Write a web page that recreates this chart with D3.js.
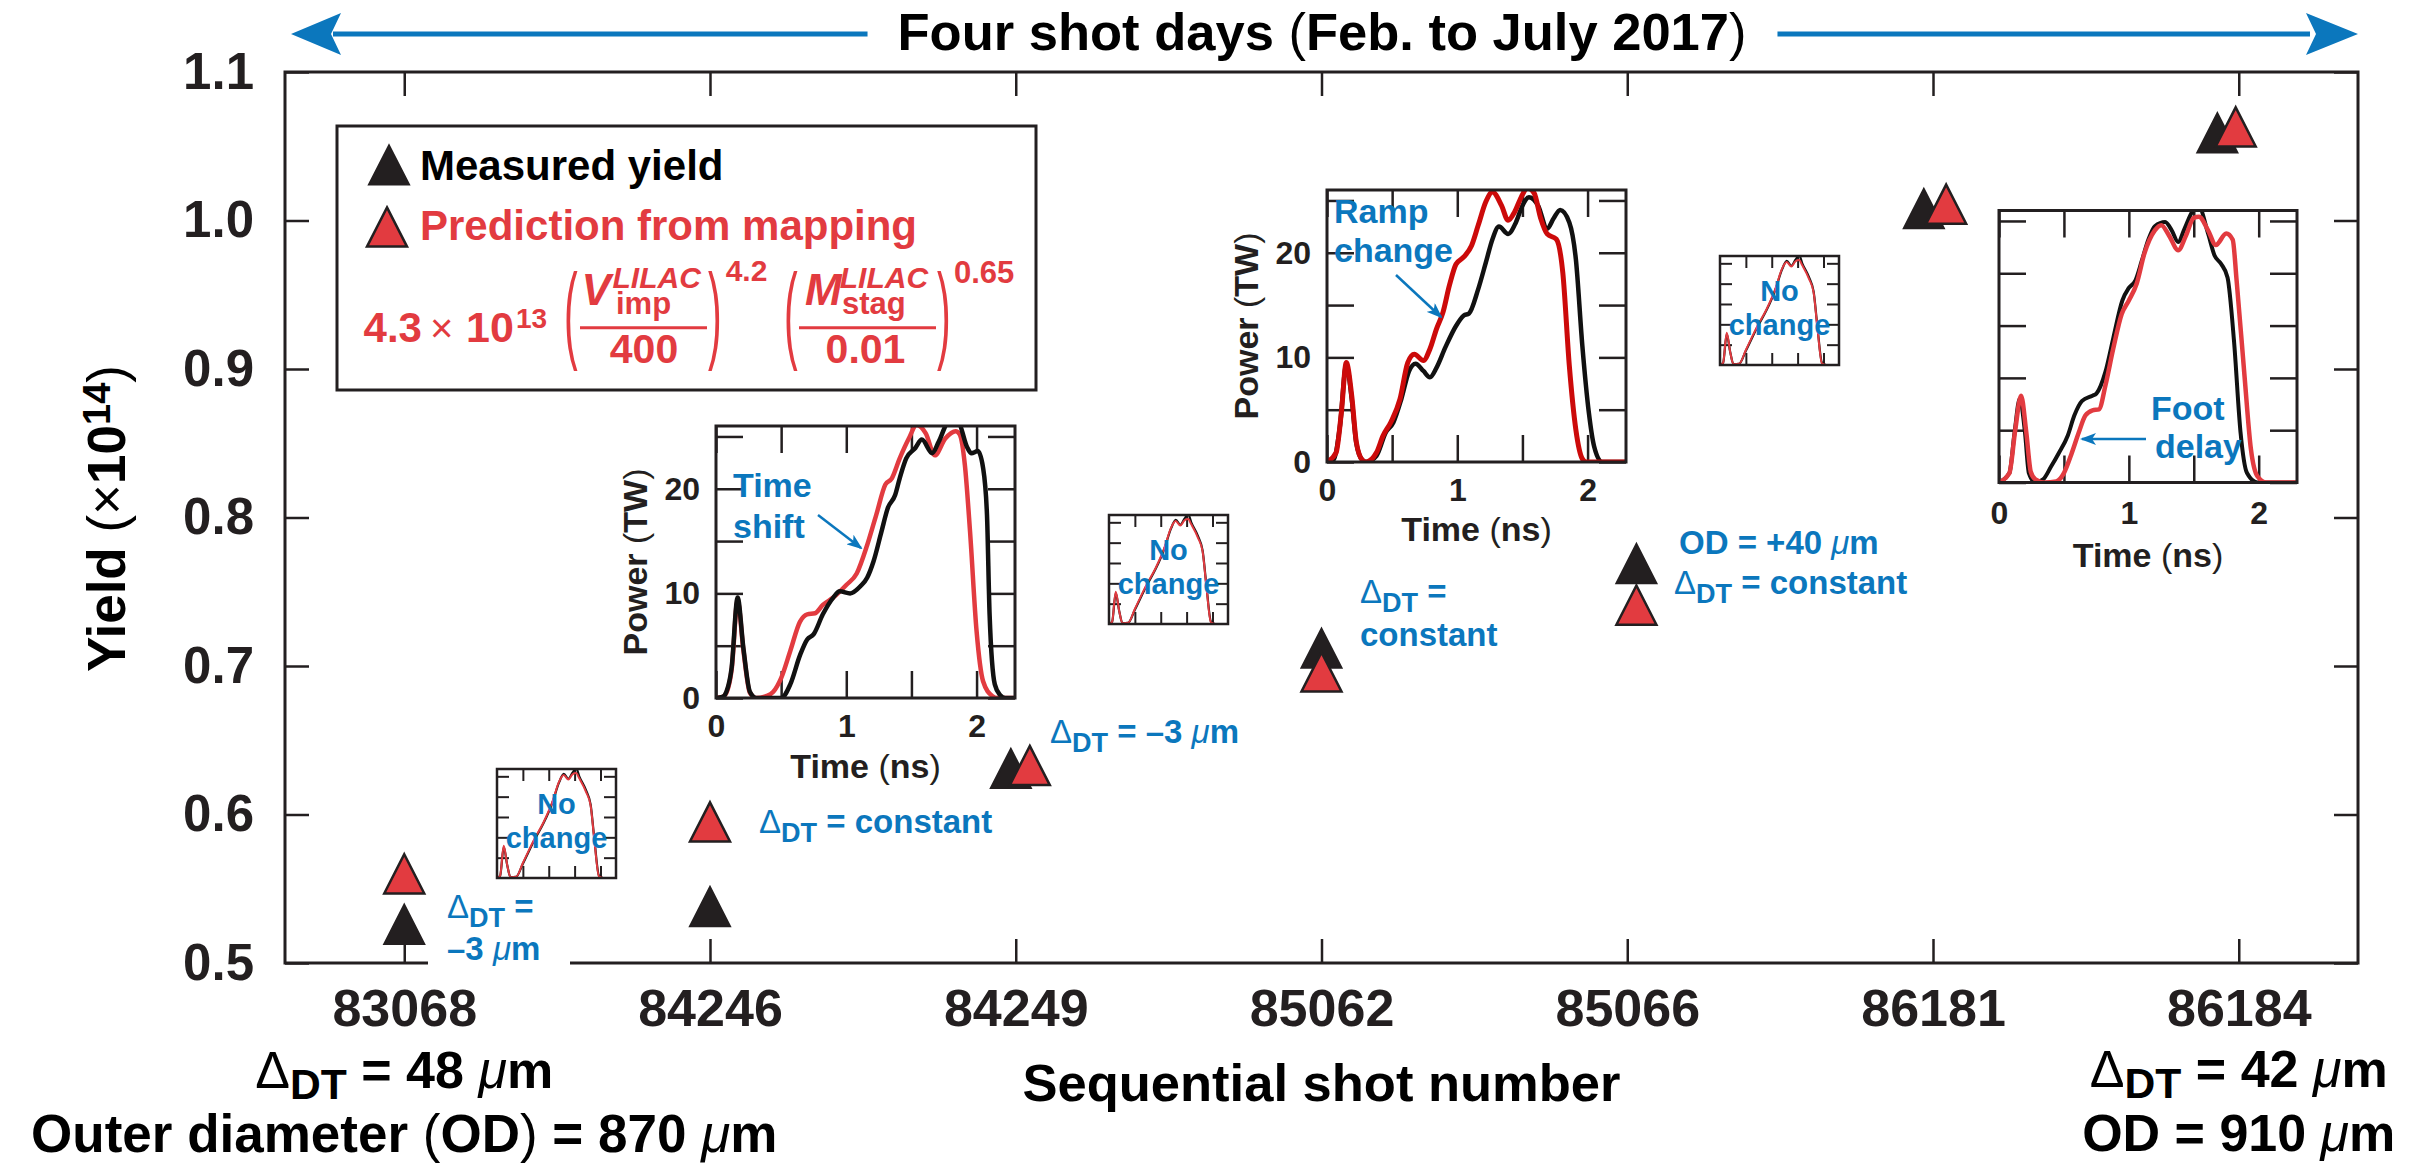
<!DOCTYPE html>
<html>
<head>
<meta charset="utf-8">
<script src="https://cdn.jsdelivr.net/npm/d3@7/dist/d3.min.js"></script>
<style>
  html, body { margin: 0; padding: 0; background: #ffffff; }
  svg text { font-family: "Liberation Sans", Arial, Helvetica, sans-serif; }
</style>
</head>
<body>
<svg id="chart" width="2416" height="1163" viewBox="0 0 2416 1163"></svg>
<script>
// ---------------- data ----------------
const shots = ["83068", "84246", "84249", "85062", "85066", "86181", "86184"];
const measuredYield  = [0.526, 0.538, 0.631, 0.712, 0.769, 1.008, 1.059];
const predictedYield = [0.560, 0.595, 0.633, 0.696, 0.741, 1.011, 1.063];
// small horizontal offsets (in shot-index units) so overlapping pairs stay visible
const measuredNudge  = [0, 0, -0.016, 0, 0.03, -0.03, -0.07];
const predictedNudge = [0, 0, 0.046, 0, 0.03, 0.043, -0.01];
const yieldTicks = [0.5, 0.6, 0.7, 0.8, 0.9, 1.0, 1.1];

// laser pulse shapes: [time (ns), power (TW)]
const pulseShiftOld = [[0,0],[0.05,0.1],[0.08,0.6],[0.12,2.9],[0.166,9.6],[0.21,4.8],[0.26,0.6],[0.31,0],[0.5,0],[0.57,1.3],[0.645,4.1],[0.70,5.6],[0.75,6.1],[0.82,8.0],[0.90,9.6],[0.95,10.2],[1.03,10.0],[1.11,10.7],[1.16,11.5],[1.21,13.1],[1.27,15.9],[1.32,18.2],[1.375,19.4],[1.41,21.0],[1.46,22.9],[1.53,23.9],[1.58,24.7],[1.66,23.4],[1.71,24.5],[1.78,26.2],[1.86,26.2],[1.93,23.9],[1.96,23.4],[2.01,23.6],[2.05,22.0],[2.08,17.5],[2.10,8],[2.14,1.3],[2.18,0.3],[2.22,0],[2.3,0]];
const pulseShiftNew = [[0,0],[0.05,0.1],[0.08,0.5],[0.12,2.7],[0.166,9.3],[0.21,4.6],[0.26,0.5],[0.31,0],[0.39,0.2],[0.44,0.6],[0.50,1.9],[0.57,4.5],[0.645,7.3],[0.70,8.0],[0.76,8.1],[0.82,8.9],[0.90,9.6],[1.0,10.8],[1.08,11.9],[1.16,14.6],[1.23,17.5],[1.30,20.4],[1.35,21.0],[1.41,22.9],[1.48,24.8],[1.54,26.1],[1.61,25.3],[1.68,23.2],[1.76,24.8],[1.84,25.5],[1.87,25.2],[1.91,22.3],[1.95,15.9],[2.00,6.4],[2.05,1.6],[2.12,0.2],[2.16,0],[2.3,0]];
const pulseRampOld = [[0,0],[0.05,0.2],[0.1,3.5],[0.148,9.3],[0.19,6.0],[0.225,1.8],[0.27,0.2],[0.30,0],[0.38,0.6],[0.45,2.8],[0.51,3.8],[0.57,6.0],[0.63,8.7],[0.68,9.4],[0.74,8.7],[0.79,8.1],[0.84,9.0],[0.91,11.0],[0.99,13.0],[1.05,14.0],[1.09,14.2],[1.16,16.5],[1.22,19.1],[1.27,21.3],[1.32,22.5],[1.39,21.8],[1.45,22.9],[1.50,24.5],[1.55,25.3],[1.62,24.5],[1.69,22.3],[1.74,23.3],[1.79,24.1],[1.86,22.9],[1.91,19.4],[1.96,11.1],[2.01,4.7],[2.05,1.5],[2.11,0],[2.3,0]];
const pulseRampNew = [[0,0],[0.07,0.9],[0.11,4.7],[0.148,9.5],[0.19,6.3],[0.225,1.9],[0.27,0.2],[0.30,0],[0.38,0.9],[0.43,2.5],[0.49,3.8],[0.56,6.0],[0.62,9.5],[0.67,10.3],[0.74,9.7],[0.79,10.8],[0.84,12.7],[0.89,14.3],[0.94,16.9],[0.99,18.9],[1.05,19.6],[1.11,20.7],[1.16,22.6],[1.22,24.9],[1.27,25.8],[1.34,24.5],[1.39,23.1],[1.44,23.9],[1.49,25.3],[1.54,26.2],[1.59,25.7],[1.64,23.3],[1.69,21.8],[1.76,21.3],[1.81,18.1],[1.86,9.2],[1.91,3.1],[1.96,0.3],[1.99,0],[2.3,0]];
const pulseFootOld = [[0,0],[0.08,0.9],[0.12,4.8],[0.16,8.0],[0.20,4.8],[0.23,0.9],[0.28,0],[0.34,0.3],[0.40,1.5],[0.46,2.8],[0.53,4.5],[0.58,6.4],[0.64,7.8],[0.72,8.3],[0.75,8.5],[0.82,10.6],[0.88,13.8],[0.95,17.4],[1.0,18.6],[1.05,19.3],[1.10,21.2],[1.15,23.2],[1.20,24.5],[1.28,24.9],[1.33,24.1],[1.38,23.0],[1.43,24.3],[1.49,25.9],[1.54,26.3],[1.61,23.8],[1.66,21.7],[1.71,20.9],[1.76,19.6],[1.81,13.5],[1.86,4.8],[1.91,0.9],[1.99,0],[2.3,0]];
const pulseFootNew = [[0,0],[0.08,0.9],[0.125,5.0],[0.17,8.3],[0.21,4.8],[0.245,1.0],[0.28,0.3],[0.35,0],[0.44,0.1],[0.50,0.9],[0.56,2.8],[0.615,4.8],[0.665,6.4],[0.72,6.9],[0.77,7.0],[0.82,9.3],[0.88,12.8],[0.945,16.1],[1.0,17.4],[1.06,19.0],[1.12,21.9],[1.20,24.1],[1.25,24.6],[1.31,23.6],[1.38,22.2],[1.44,23.6],[1.50,25.3],[1.54,25.4],[1.61,24.1],[1.67,22.7],[1.75,23.8],[1.80,23.2],[1.83,19.3],[1.89,10.3],[1.94,3.2],[1.99,0.6],[2.06,0],[2.3,0]];
const pulseSameOld = [[0,0],[0.06,0.5],[0.13,7.6],[0.2,3],[0.26,0.2],[0.37,0.3],[0.5,3.5],[0.72,9.3],[0.9,13.5],[1.07,18.5],[1.2,23.5],[1.29,25.6],[1.38,24.4],[1.46,25.9],[1.53,27],[1.59,25],[1.72,21.6],[1.81,18],[1.88,9.8],[1.97,0.6],[2.05,0],[2.3,0]];
const pulseSameNew = [[0,0],[0.06,0.5],[0.13,7.9],[0.2,3],[0.26,0.2],[0.37,0.3],[0.5,3.7],[0.72,9.5],[0.9,13.7],[1.07,18.7],[1.2,23.7],[1.29,25.3],[1.38,24.2],[1.46,25.5],[1.53,25.8],[1.59,24.5],[1.72,21.2],[1.81,17.8],[1.88,9.5],[1.97,0.4],[2.05,0],[2.3,0]];

// ---------------- styles ----------------
const INK = "#231f20", BLUE = "#0b77bd", RED = "#e23b40", DEEPRED = "#cc0a0a";
const FONT = "'Liberation Sans', Arial, Helvetica, sans-serif";

const svg = d3.select("#chart");
const defs = svg.append("defs");
defs.append("marker").attr("id", "blueHead")
  .attr("viewBox", "0 0 16 12").attr("refX", 14).attr("refY", 6)
  .attr("markerWidth", 16).attr("markerHeight", 12)
  .attr("markerUnits", "userSpaceOnUse").attr("orient", "auto")
  .append("path").attr("d", "M0,0 L16,6 L0,12 L4,6 Z").attr("fill", BLUE);

// ---------------- main scales ----------------
const x = d3.scaleLinear().domain([-0.39, 6.39]).range([285, 2358]);
const y = d3.scaleLinear().domain([0.5, 1.1]).range([963, 72]);
const L = x.range()[0], R = x.range()[1], T = y.range()[1], B = y.range()[0];

function styleAxis(g, size) {
  g.attr("font-family", FONT).attr("font-size", size);
  g.select(".domain").remove();
  g.selectAll(".tick line").attr("stroke", INK).attr("stroke-width", 2.5);
  g.selectAll(".tick text").attr("fill", INK).attr("font-weight", "bold");
}

// axes with inward ticks on all four sides
styleAxis(svg.append("g").attr("transform", `translate(0,${B})`)
  .call(d3.axisBottom(x).tickValues(d3.range(shots.length)).tickFormat(i => shots[i])
    .tickSizeInner(-24).tickSizeOuter(0).tickPadding(26)), 52);
styleAxis(svg.append("g").attr("transform", `translate(0,${T})`)
  .call(d3.axisTop(x).tickValues(d3.range(shots.length)).tickFormat("")
    .tickSizeInner(-24).tickSizeOuter(0)), 52);
styleAxis(svg.append("g").attr("transform", `translate(${L},0)`)
  .call(d3.axisLeft(y).tickValues(yieldTicks).tickFormat(d3.format(".1f"))
    .tickSizeInner(-24).tickSizeOuter(0).tickPadding(31)), 51);
styleAxis(svg.append("g").attr("transform", `translate(${R},0)`)
  .call(d3.axisRight(y).tickValues(yieldTicks).tickFormat("")
    .tickSizeInner(-24).tickSizeOuter(0)), 51);

svg.append("rect").attr("x", L).attr("y", T).attr("width", R - L).attr("height", B - T)
  .attr("fill", "none").attr("stroke", INK).attr("stroke-width", 3);

// ---------------- text helpers ----------------
function richText(g, x0, yb, size, parts, opts = {}) {
  const drop = size * (opts.drop || 0.26);
  const t = g.append("text").attr("x", x0).attr("y", yb).attr("font-size", size)
    .attr("font-weight", "bold").attr("fill", opts.fill || INK);
  if (opts.anchor) t.attr("text-anchor", opts.anchor);
  let shift = 0;
  parts.forEach(p => {
    const s = t.append("tspan").text(p.t);
    if (p.sub) { s.attr("font-size", size * 0.82).attr("dy", drop - shift); shift = drop; }
    else if (shift) { s.attr("dy", -shift); shift = 0; }
    if (p.thin) s.attr("font-weight", "normal");
    if (p.it) s.attr("font-style", "italic").attr("font-weight", "normal");
  });
  return t;
}
const DDT = [{ t: "Δ", thin: true }, { t: "DT", sub: true }];
const MU = { t: "μ", it: true };

// ---------------- title with arrows ----------------
const title = svg.append("text").attr("x", 1322).attr("y", 50).attr("text-anchor", "middle")
  .attr("font-size", 52.5).attr("font-weight", "bold").attr("fill", "#000");
title.append("tspan").text("Four shot days ");
title.append("tspan").attr("font-weight", "normal").text("(");
title.append("tspan").text("Feb. to July 2017");
title.append("tspan").attr("font-weight", "normal").text(")");
const tb = title.node().getBBox();
const arrowY = 34;
svg.append("line").attr("x1", tb.x - 30).attr("x2", L + 48).attr("y1", arrowY).attr("y2", arrowY)
  .attr("stroke", BLUE).attr("stroke-width", 5);
svg.append("path").attr("d", `M${L + 6},${arrowY} L${L + 56},${arrowY - 21} L${L + 46},${arrowY} L${L + 56},${arrowY + 21} Z`).attr("fill", BLUE);
svg.append("line").attr("x1", tb.x + tb.width + 31).attr("x2", R - 48).attr("y1", arrowY).attr("y2", arrowY)
  .attr("stroke", BLUE).attr("stroke-width", 5);
svg.append("path").attr("d", `M${R},${arrowY} L${R - 52},${arrowY - 21} L${R - 42},${arrowY} L${R - 52},${arrowY + 21} Z`).attr("fill", BLUE);

// ---------------- y-axis title ----------------
const yt = svg.append("text").attr("transform", `translate(125,${(T + B) / 2 + 1}) rotate(-90)`)
  .attr("text-anchor", "middle").attr("font-size", 53).attr("font-weight", "bold").attr("fill", "#000");
yt.append("tspan").text("Yield ");
yt.append("tspan").attr("font-weight", "normal").text("(×");
yt.append("tspan").text("10");
yt.append("tspan").attr("font-size", 38).attr("dy", -15).text("14");
yt.append("tspan").attr("font-weight", "normal").attr("dy", 15).text(")");

// ---------------- x-axis titles ----------------
svg.append("text").attr("x", x(3)).attr("y", 1101).attr("text-anchor", "middle")
  .attr("font-size", 52.5).attr("font-weight", "bold").attr("fill", "#000").text("Sequential shot number");
richText(svg, x(0), 1088, 52, [...DDT, { t: " = 48 " }, MU, { t: "m" }], { anchor: "middle", fill: "#000", drop: 0.22 });
richText(svg, x(0), 1152, 53, [{ t: "Outer diameter " }, { t: "(", thin: true }, { t: "OD" }, { t: ")", thin: true }, { t: " = 870 " }, MU, { t: "m" }], { anchor: "middle", fill: "#000" });
richText(svg, x(6), 1087, 52, [...DDT, { t: " = 42 " }, MU, { t: "m" }], { anchor: "middle", fill: "#000", drop: 0.22 });
richText(svg, x(6), 1151, 52, [{ t: "OD = 910 " }, MU, { t: "m" }], { anchor: "middle", fill: "#000" });

// ---------------- legend ----------------
const triType = { draw(ctx, size) { const w = Math.sqrt(size), h = w * 0.98; ctx.moveTo(0, -h / 2); ctx.lineTo(w / 2, h / 2); ctx.lineTo(-w / 2, h / 2); ctx.closePath(); } };
const triPath = d3.symbol().type(triType).size(40 * 40)();

const leg = svg.append("g");
leg.append("rect").attr("x", 337).attr("y", 126).attr("width", 699).attr("height", 264)
  .attr("fill", "#fff").attr("stroke", INK).attr("stroke-width", 3);
leg.append("path").attr("d", triPath).attr("transform", "translate(389,165)")
  .attr("fill", INK).attr("stroke", INK).attr("stroke-width", 2);
leg.append("path").attr("d", triPath).attr("transform", "translate(387,227)")
  .attr("fill", RED).attr("stroke", INK).attr("stroke-width", 2.5);
leg.append("text").attr("x", 420).attr("y", 180).attr("font-size", 42).attr("font-weight", "bold")
  .attr("fill", "#000").text("Measured yield");
leg.append("text").attr("x", 420).attr("y", 240).attr("font-size", 42).attr("font-weight", "bold")
  .attr("fill", RED).text("Prediction from mapping");

// mapping formula: prefactor, two bracketed ratios with exponents
const fx = leg.append("g").attr("fill", RED).attr("font-weight", "bold");
function paren(ch, x0) {
  fx.append("text").attr("transform", `translate(${x0},349) scale(0.38,1)`)
    .attr("font-size", 108).attr("font-weight", "normal").text(ch);
}
const pre = fx.append("text").attr("y", 341.7).attr("font-size", 42);
pre.append("tspan").attr("x", 363.6).text("4.3");
pre.append("tspan").attr("x", 430).attr("font-weight", "normal").attr("font-size", 40).text("×");
pre.append("tspan").attr("x", 466).attr("font-size", 43).text("10");
pre.append("tspan").attr("x", 516).attr("dy", -13.7).attr("font-size", 28).text("13");

function ratio(sym, symX, supX, subX, sub, denom, denomX, x1, x2) {
  const t = fx.append("text").attr("y", 305).attr("font-size", 44);
  t.append("tspan").attr("x", symX).attr("font-style", "italic").text(sym);
  t.append("tspan").attr("x", supX).attr("dy", -17.3).attr("font-size", 30).attr("font-style", "italic").text("LILAC");
  t.append("tspan").attr("x", subX).attr("dy", 26.5).attr("font-size", 31).text(sub);
  fx.append("line").attr("x1", x1).attr("x2", x2).attr("y1", 327.7).attr("y2", 327.7)
    .attr("stroke", RED).attr("stroke-width", 3);
  fx.append("text").attr("x", denomX).attr("y", 363.3).attr("font-size", 41)
    .attr("text-anchor", "middle").text(denom);
}
paren("(", 564);
ratio("V", 581.6, 612.5, 616, "imp", "400", 644, 580, 707);
paren(")", 708);
fx.append("text").attr("x", 725.7).attr("y", 281).attr("font-size", 30).text("4.2");
paren("(", 784);
ratio("M", 805, 839.8, 842, "stag", "0.01", 865.5, 799, 936);
paren(")", 937);
fx.append("text").attr("x", 954).attr("y", 282.7).attr("font-size", 31).text("0.65");

// ---------------- pulse-shape insets ----------------
let clipCount = 0;
function inset(cfg) {
  const g = svg.append("g");
  const tx = d3.scaleLinear().domain([0, cfg.tMax]).range([cfg.x, cfg.x + cfg.w]);
  const py = d3.scaleLinear().domain([0, cfg.pMax]).range([cfg.y + cfg.h, cfg.y]);
  g.append("rect").attr("x", cfg.x).attr("y", cfg.y).attr("width", cfg.w).attr("height", cfg.h).attr("fill", "#fff");
  const id = "insetClip" + (clipCount++);
  defs.append("clipPath").attr("id", id).append("rect")
    .attr("x", cfg.x).attr("y", cfg.y - 1).attr("width", cfg.w).attr("height", cfg.h + 1);

  const tLab = d => (cfg.tLabels && Number.isInteger(d)) ? d : "";
  const pLab = d => (cfg.pLabels && d % 10 === 0) ? d : "";
  const axes = [
    g.append("g").attr("transform", `translate(0,${cfg.y + cfg.h})`).call(d3.axisBottom(tx).tickValues(cfg.tTicks).tickFormat(tLab).tickSizeInner(-cfg.tick).tickSizeOuter(0).tickPadding(cfg.padX || 16)),
    g.append("g").attr("transform", `translate(0,${cfg.y})`).call(d3.axisTop(tx).tickValues(cfg.tTicks).tickFormat("").tickSizeInner(-cfg.tick).tickSizeOuter(0)),
    g.append("g").attr("transform", `translate(${cfg.x},0)`).call(d3.axisLeft(py).tickValues(cfg.pTicks).tickFormat(pLab).tickSizeInner(-cfg.tick).tickSizeOuter(0).tickPadding(16)),
    g.append("g").attr("transform", `translate(${cfg.x + cfg.w},0)`).call(d3.axisRight(py).tickValues(cfg.pTicks).tickFormat("").tickSizeInner(-cfg.tick).tickSizeOuter(0))
  ];
  axes.forEach(a => {
    a.attr("font-family", FONT).attr("font-size", 32);
    a.select(".domain").remove();
    a.selectAll(".tick line").attr("stroke", INK).attr("stroke-width", cfg.tickWidth || 2.5);
    a.selectAll(".tick text").attr("fill", INK).attr("font-weight", "bold");
  });

  const line = d3.line().x(d => tx(d[0])).y(d => py(d[1])).curve(d3.curveMonotoneX);
  cfg.series.forEach(s => {
    g.append("path").attr("d", line(s.data)).attr("fill", "none").attr("stroke", s.color)
      .attr("stroke-width", s.width).attr("stroke-linejoin", "round").attr("clip-path", `url(#${id})`);
  });
  g.append("rect").attr("x", cfg.x).attr("y", cfg.y).attr("width", cfg.w).attr("height", cfg.h)
    .attr("fill", "none").attr("stroke", INK).attr("stroke-width", cfg.frameWidth || 3);

  if (cfg.xTitle) {
    g.append("text").attr("x", cfg.x + cfg.w / 2).attr("y", cfg.y + cfg.h + cfg.xTitleGap)
      .attr("text-anchor", "middle").attr("font-size", 34).attr("font-weight", "bold").attr("fill", INK)
      .html('Time <tspan font-weight="normal">(</tspan>ns<tspan font-weight="normal">)</tspan>');
  }
  if (cfg.yTitle) {
    g.append("text").attr("transform", `translate(${cfg.x - 69},${cfg.y + cfg.h / 2}) rotate(-90)`)
      .attr("text-anchor", "middle").attr("font-size", 34).attr("font-weight", "bold").attr("fill", INK)
      .html('Power <tspan font-weight="normal">(</tspan>TW<tspan font-weight="normal">)</tspan>');
  }
  return { g, tx, py };
}

const bigTicks = { tMax: 2.295, pMax: 26, tTicks: [0, 0.5, 1, 1.5, 2], pTicks: [0, 5, 10, 15, 20, 25], tick: 27 };

// Time shift
const iA = inset({ ...bigTicks, x: 716, y: 426, w: 299, h: 272, tLabels: true, pLabels: true, xTitle: true, yTitle: true, xTitleGap: 80,
  series: [{ data: pulseShiftNew, color: RED, width: 4.5 }, { data: pulseShiftOld, color: "#111", width: 4.5 }] });
// Ramp change
const iB = inset({ ...bigTicks, x: 1327, y: 190, w: 299, h: 272, tLabels: true, pLabels: true, xTitle: true, yTitle: true, xTitleGap: 79,
  series: [{ data: pulseRampOld, color: "#111", width: 4.5 }, { data: pulseRampNew, color: DEEPRED, width: 5 }] });
// Foot delay
const iC = inset({ ...bigTicks, x: 1999, y: 210.5, w: 298, h: 272, tLabels: true, pLabels: false, xTitle: true, yTitle: false, xTitleGap: 84, padX: 19,
  series: [{ data: pulseFootOld, color: "#111", width: 4 }, { data: pulseFootNew, color: RED, width: 4.5 }] });

// inset annotations
function note(g, lines, x0, y0, gap) {
  lines.forEach((s, k) => g.append("text").attr("x", x0).attr("y", y0 + k * gap)
    .attr("font-size", 34).attr("font-weight", "bold").attr("fill", BLUE).text(s));
}
function pointer(g, x1, y1, x2, y2) {
  g.append("line").attr("x1", x1).attr("y1", y1).attr("x2", x2).attr("y2", y2)
    .attr("stroke", BLUE).attr("stroke-width", 2.5).attr("marker-end", "url(#blueHead)");
}
note(iA.g, ["Time", "shift"], 716 + 17, 426 + 71, 41);
pointer(iA.g, 716 + 102, 426 + 89, 716 + 145, 426 + 122);
note(iB.g, ["Ramp", "change"], 1327 + 7, 190 + 33, 39);
pointer(iB.g, 1327 + 69, 190 + 85, 1327 + 114, 190 + 127);
iC.g.append("text").attr("x", 1999 + 152).attr("y", 210.5 + 209.5).attr("font-size", 34).attr("font-weight", "bold").attr("fill", BLUE).text("Foot");
iC.g.append("text").attr("x", 1999 + 156).attr("y", 210.5 + 247.5).attr("font-size", 34).attr("font-weight", "bold").attr("fill", BLUE).text("delay");
pointer(iC.g, 1999 + 147, 210.5 + 228.5, 1999 + 83, 210.5 + 228.5);

// "No change" thumbnails
const smallBoxes = [[497, 769], [1109, 515], [1720, 256]];
smallBoxes.forEach(([bx, by]) => {
  const s = inset({ x: bx, y: by, w: 119, h: 109, tMax: 2.3, pMax: 26.8, tTicks: [0.5, 1, 1.5, 2], pTicks: [5, 10, 15, 20, 25],
    tick: 12, tickWidth: 2, frameWidth: 2.5,
    series: [{ data: pulseSameOld, color: "#111", width: 2.2 }, { data: pulseSameNew, color: RED, width: 2 }] });
  ["No", "change"].forEach((w, k) => s.g.append("text").attr("x", bx + 59.5).attr("y", by + 45 + k * 34)
    .attr("text-anchor", "middle").attr("font-size", 29).attr("font-weight", "bold").attr("fill", BLUE).text(w));
});

// ---------------- yield markers ----------------
svg.append("g").selectAll("path").data(measuredYield).join("path")
  .attr("d", triPath)
  .attr("transform", (d, i) => `translate(${x(i + measuredNudge[i])},${y(d)})`)
  .attr("fill", INK).attr("stroke", INK).attr("stroke-width", 2);
svg.append("g").selectAll("path").data(predictedYield).join("path")
  .attr("d", triPath)
  .attr("transform", (d, i) => `translate(${x(i + predictedNudge[i])},${y(d)})`)
  .attr("fill", RED).attr("stroke", INK).attr("stroke-width", 2.5);

// ---------------- shot annotations ----------------
const ann = svg.append("g");
ann.append("rect").attr("x", 428).attr("y", 884).attr("width", 142).attr("height", 90).attr("fill", "#fff");
richText(ann, 447, 918, 33, [...DDT, { t: " =" }], { fill: BLUE });
richText(ann, 447, 960, 33, [{ t: "–3 " }, MU, { t: "m" }], { fill: BLUE });
richText(ann, 759, 833, 33, [...DDT, { t: " = constant" }], { fill: BLUE });
richText(ann, 1050, 743, 33, [...DDT, { t: " = –3 " }, MU, { t: "m" }], { fill: BLUE });
richText(ann, 1360, 603, 33, [...DDT, { t: " =" }], { fill: BLUE });
richText(ann, 1360, 646, 33, [{ t: "constant" }], { fill: BLUE });
richText(ann, 1679, 554, 33, [{ t: "OD = +40 " }, MU, { t: "m" }], { fill: BLUE });
richText(ann, 1674, 594, 33, [...DDT, { t: " = constant" }], { fill: BLUE });
</script>
</body>
</html>
